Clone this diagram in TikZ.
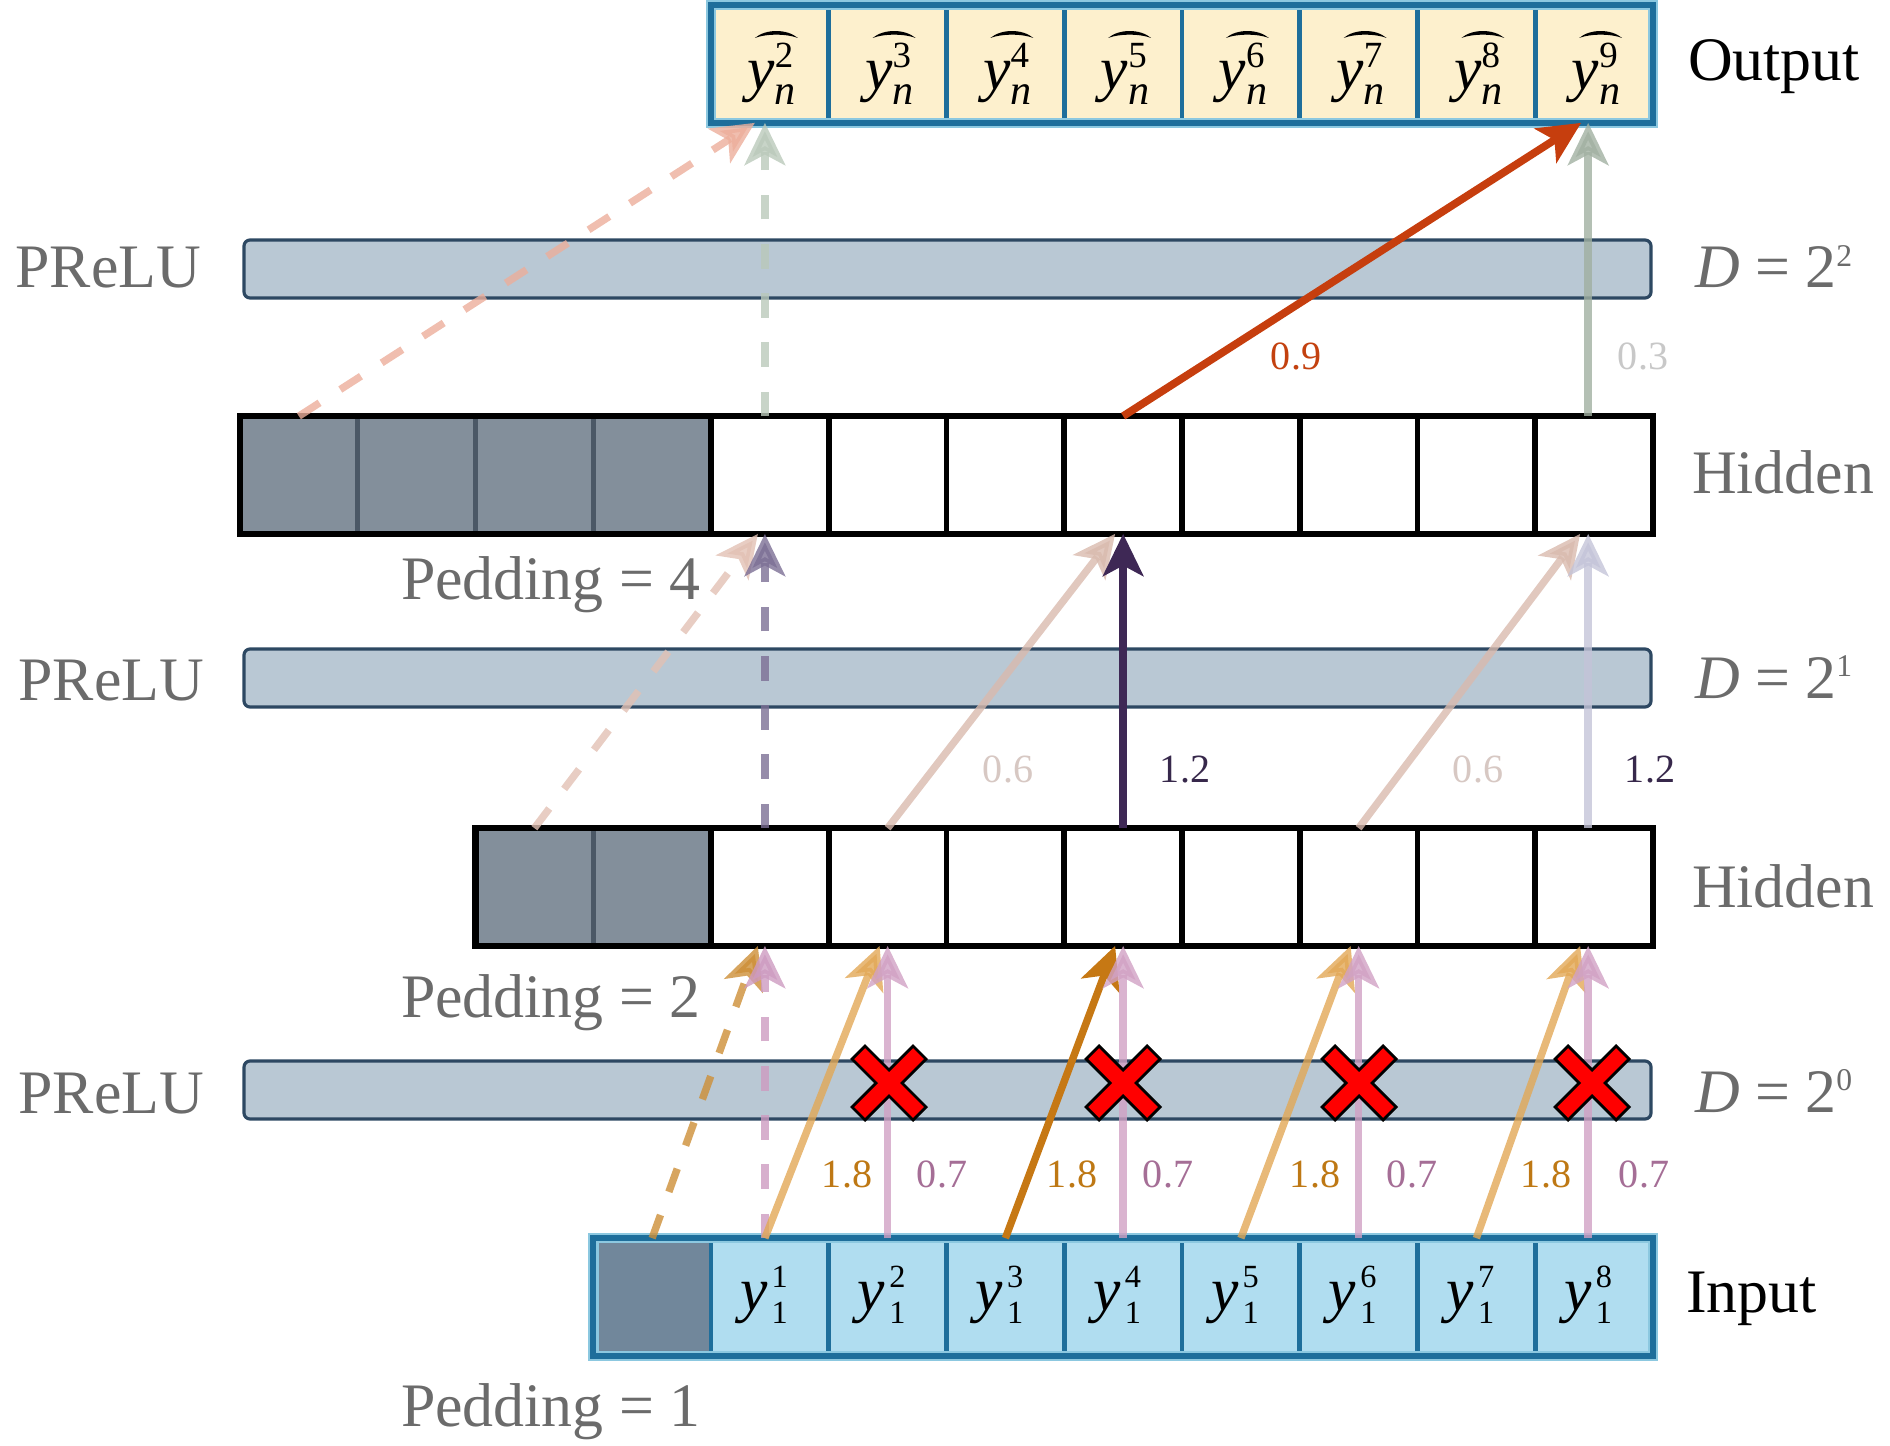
\documentclass[tikz,border=0pt]{standalone}
\usepackage{fontspec}
\setmainfont{Liberation Serif}
\usetikzlibrary{arrows.meta,calc}
\definecolor{outfill}{HTML}{FDF0CD}
\definecolor{blueline}{HTML}{1E6E9B}
\definecolor{glow}{HTML}{8CC8E0}
\definecolor{infill}{HTML}{B0DDF0}
\definecolor{inpad}{HTML}{71879B}
\definecolor{hidpad}{HTML}{838F9B}
\definecolor{hiddiv}{HTML}{4B5866}
\definecolor{barfill}{HTML}{B9C8D4}
\definecolor{barline}{HTML}{2D4862}
\definecolor{lblgray}{HTML}{6B6B6B}
\definecolor{cred}{HTML}{C63E0E}
\definecolor{cpurple}{HTML}{3E2855}
\definecolor{cdorange}{HTML}{C67814}
\definecolor{clorange}{RGB}{226,168,86}
\definecolor{cpink}{RGB}{209,161,196}
\definecolor{ctan}{RGB}{217,186,174}
\definecolor{clav}{RGB}{196,196,216}
\definecolor{cgreen}{RGB}{161,176,161}
\definecolor{csalmonA}{RGB}{236,174,155}
\definecolor{cgreenD}{RGB}{186,201,186}
\definecolor{csalmonB}{RGB}{226,193,180}
\definecolor{cpurpD}{RGB}{124,111,149}
\definecolor{corangeD}{RGB}{205,143,55}
\definecolor{cpinkD}{RGB}{205,155,193}
\definecolor{tOne}{HTML}{BE7814}
\definecolor{tSeven}{HTML}{A56E96}
\definecolor{tSix}{HTML}{D7C8C3}
\definecolor{tTwelve}{HTML}{37284B}
\definecolor{tNine}{HTML}{C3410F}
\definecolor{tThree}{HTML}{C8C8C8}
\newcommand\yout[1]{{\fontsize{17.5}{17.5}\selectfont\itshape y}\makebox[0pt][l]{\raisebox{6.3pt}{\fontsize{10.5}{10.5}\selectfont #1}}\raisebox{-4.2pt}{\fontsize{12}{12}\selectfont\itshape n}}
\newcommand\yin[1]{{\fontsize{17.5}{17.5}\selectfont\itshape y}\kern1.2pt\makebox[0pt][l]{\raisebox{6.5pt}{\fontsize{9.2}{9.2}\selectfont #1}}\raisebox{-3.7pt}{\fontsize{9.2}{9.2}\selectfont 1}}
\newcommand\dlab[1]{\textit{D} = 2\raisebox{6pt}{\fontsize{9}{9}\selectfont #1}}
\begin{document}
\begin{tikzpicture}[x=0.1mm,y=-0.1mm,
  cell/.style={minimum width=11.775mm,minimum height=11.775mm,inner sep=0pt,outer sep=0pt},
  hcell/.style={cell,draw=black,fill=white,line width=1.6pt},
  hpad/.style={cell,draw=hiddiv,fill=hidpad,line width=1.5pt},
  ocell/.style={cell,draw=blueline,fill=outfill,line width=1.4pt},
  icell/.style={cell,draw=blueline,fill=infill,line width=1.4pt},
  ipad/.style={cell,draw=blueline,fill=inpad,line width=1.4pt},
  bar/.style={draw=barline,fill=barfill,line width=0.9pt,rounded corners=0.6mm,minimum width=140.7mm,minimum height=5.8mm,inner sep=0pt,outer sep=0pt},
  lbl/.style={inner sep=0pt,outer sep=0pt,font=\fontsize{17.6}{20}\selectfont},
  glbl/.style={lbl,text=lblgray},
  num/.style={inner sep=0pt,outer sep=0pt,anchor=base,font=\fontsize{11.4}{13}\selectfont},
  arr/.style={line width=2.1pt,-{Stealth[length=12pt,width=11.5pt,inset=3pt]}},
  light/.style={arr,opacity=0.8},
  dsh/.style={dash pattern=on 7pt off 7pt},
  xmark/.pic={\filldraw[fill=red,draw=black,line width=0.8pt,line join=miter]
     (-37,-24) -- (-24,-37) -- (0,-13) -- (24,-37) -- (37,-24) -- (13,0) -- (37,24)
     -- (24,37) -- (0,13) -- (-24,37) -- (-37,24) -- (-13,0) -- cycle;}
]
\useasboundingbox (0,0) rectangle (1890,1446);

% PReLU bars
\node[bar] (bar3) at (947.5,269) {};
\node[bar] (bar2) at (947.5,678) {};
\node[bar] (bar1) at (947.5,1090) {};

% output row
\foreach \k [evaluate=\k as \cx using 1653-(7-\k+0.5)*117.75] in {0,...,7}
  \node[ocell] (out\k) at (\cx,64) {};
\draw[line width=3pt,glow] (out0.north west) rectangle (out7.south east);
\draw[line width=1.6pt,blueline] (out0.north west) rectangle (out7.south east);
\foreach \k [evaluate=\k as \cx using 1653-(7-\k+0.5)*117.75, evaluate=\k as \s using int(\k+2)] in {0,...,7}{
  \node[anchor=base,inner sep=0pt] (oy\k) at (\cx+2,90) {\yout{\s}};
  \fill (\cx-15,38) .. controls (\cx-4,28.7) and (\cx+17,28.7) .. (\cx+28,38)
        .. controls (\cx+17,33.6) and (\cx-4,33.6) .. cycle;
}

% hidden top row
\foreach \k [evaluate=\k as \cx using 1653-(11-\k+0.5)*117.75] in {0,...,3}
  \node[hpad] (ht\k) at (\cx,475) {};
\foreach \k [evaluate=\k as \cx using 1653-(11-\k+0.5)*117.75] in {4,...,11}
  \node[hcell] (ht\k) at (\cx,475) {};
\draw[line width=1.9pt] (ht0.north west) rectangle (ht11.south east);

% hidden bottom row
\foreach \k [evaluate=\k as \cx using 1653-(9-\k+0.5)*117.75] in {0,1}
  \node[hpad] (hb\k) at (\cx,887) {};
\foreach \k [evaluate=\k as \cx using 1653-(9-\k+0.5)*117.75] in {2,...,9}
  \node[hcell] (hb\k) at (\cx,887) {};
\draw[line width=1.9pt] (hb0.north west) rectangle (hb9.south east);

% input row
\node[ipad] (in0) at (1653-8.5*117.75,1297) {};
\foreach \k [evaluate=\k as \cx using 1653-(8-\k+0.5)*117.75] in {1,...,8}{
  \node[icell] (in\k) at (\cx,1297) {};
  \node[anchor=base,inner sep=0pt] (iy\k) at (\cx-6,1310) {\yin{\k}};
}
\draw[line width=3pt,glow] (in0.north west) rectangle (in8.south east);
\draw[line width=1.6pt,blueline] (in0.north west) rectangle (in8.south east);

% layer 1 connections (D = 2^0)
\draw[light,corangeD,dsh] (in0.north) -- ([xshift=-1.2mm]hb2.south);
\draw[light,cpinkD,dsh] ([xshift=-0.5mm]in1.north) -- ([xshift=-0.5mm]hb2.south);
\draw[light,clorange] ([xshift=-0.5mm]in1.north) -- ([xshift=-0.8mm]hb3.south);
\draw[light,cpink] (in2.north) -- (hb3.south);
\draw[arr,cdorange] (in3.north) -- ([xshift=-0.8mm]hb5.south);
\draw[light,cpink] (in4.north) -- (hb5.south);
\draw[light,clorange] (in5.north) -- ([xshift=-0.8mm]hb7.south);
\draw[light,cpink] (in6.north) -- (hb7.south);
\draw[light,clorange] (in7.north) -- ([xshift=-1.4mm]hb9.south);
\draw[light,cpink] ([xshift=-0.6mm]in8.north) -- ([xshift=-0.6mm]hb9.south);

% layer 2 connections (D = 2^1)
\draw[light,csalmonB,dsh] (hb0.north) -- ([xshift=-1.2mm]ht4.south);
\draw[light,cpurpD,dsh] ([xshift=-0.5mm]hb2.north) -- ([xshift=-0.5mm]ht4.south);
\draw[light,ctan] (hb3.north) -- ([xshift=-0.8mm]ht7.south);
\draw[arr,cpurple] (hb5.north) -- (ht7.south);
\draw[light,ctan] (hb7.north) -- ([xshift=-1.4mm]ht11.south);
\draw[light,clav] ([xshift=-0.6mm]hb9.north) -- ([xshift=-0.6mm]ht11.south);

% layer 3 connections (D = 2^2)
\draw[light,csalmonA,dsh] (ht0.north) -- ([xshift=-1.5mm]out0.south);
\draw[light,cgreenD,dsh] ([xshift=-0.5mm]ht4.north) -- ([xshift=-0.5mm]out0.south);
\draw[arr,cred,line width=2.2pt] (ht7.north) -- ([xshift=-1.3mm]out7.south);
\draw[light,cgreen] ([xshift=-0.6mm]ht11.north) -- ([xshift=-0.6mm]out7.south);

% blocked connections
\pic at (889,1083) {xmark};
\pic at (1123,1083) {xmark};
\pic at (1359,1083) {xmark};
\pic at (1592,1083) {xmark};

% weights
\node[num,text=tNine] (w09) at (1296,370) {0.9};
\node[num,text=tThree] (w03) at (1643,370) {0.3};
\node[num,text=tSix] (w06a) at (1008,782) {0.6};
\node[num,text=tTwelve] (w12a) at (1185,782) {1.2};
\node[num,text=tSix] (w06b) at (1478,782) {0.6};
\node[num,text=tTwelve] (w12b) at (1650,782) {1.2};
\node[num,text=tOne] (w18a) at (847,1187) {1.8};
\node[num,text=tSeven] (w07a) at (942,1187) {0.7};
\node[num,text=tOne] (w18b) at (1072,1187) {1.8};
\node[num,text=tSeven] (w07b) at (1168,1187) {0.7};
\node[num,text=tOne] (w18c) at (1315,1187) {1.8};
\node[num,text=tSeven] (w07c) at (1412,1187) {0.7};
\node[num,text=tOne] (w18d) at (1546,1187) {1.8};
\node[num,text=tSeven] (w07d) at (1644,1187) {0.7};

% labels
\node[lbl,anchor=base west] (lout) at (1688,81) {Output};
\node[lbl,anchor=base west] (lin) at (1686,1312) {Input};
\node[glbl,anchor=base west] (lh2) at (1692,494) {Hidden};
\node[glbl,anchor=base west] (lh1) at (1692,907) {Hidden};
\node[glbl,anchor=base west] (ld2) at (1695,288) {\dlab{2}};
\node[glbl,anchor=base west] (ld1) at (1695,698) {\dlab{1}};
\node[glbl,anchor=base west] (ld0) at (1695,1112) {\dlab{0}};
\node[glbl,anchor=base east] (lp3) at (201,288) {PReLU};
\node[glbl,anchor=base east] (lp2) at (204,700) {PReLU};
\node[glbl,anchor=base east] (lp1) at (204,1113) {PReLU};
\node[glbl,anchor=base west] (pd4) at (401,600) {Pedding = 4};
\node[glbl,anchor=base west] (pd2) at (401,1017) {Pedding = 2};
\node[glbl,anchor=base west] (pd1) at (401,1426) {Pedding = 1};
\end{tikzpicture}
\end{document}
